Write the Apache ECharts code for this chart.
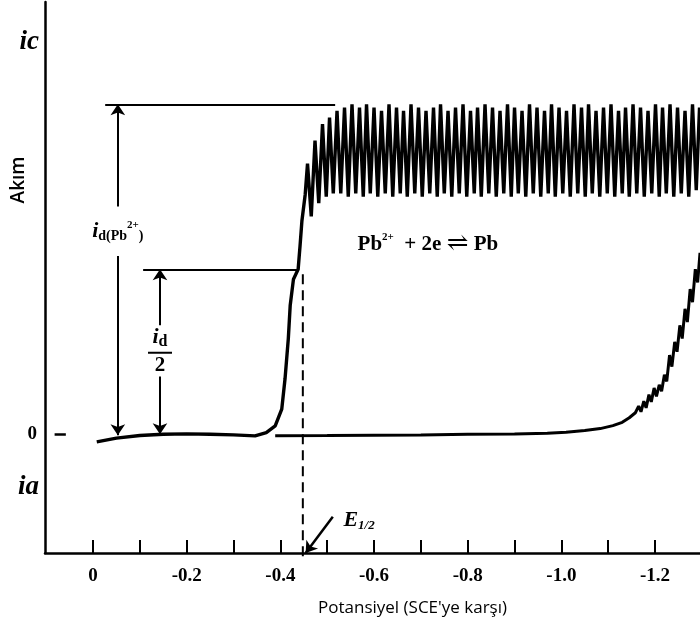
<!DOCTYPE html>
<html><head><meta charset="utf-8">
<script src="https://cdn.jsdelivr.net/npm/echarts@6/dist/echarts.min.js"></script>
<style>html,body{margin:0;padding:0;background:#fff}#c{width:700px;height:631px}</style>
</head><body><div id="c"></div>
<script>
// ---- axis settings ----
const xMin = -1.296, xMax = 0.1025;
const yMin = -36, yMax = 131;
const xTickValues = [0, -0.1, -0.2, -0.3, -0.4, -0.5, -0.6, -0.7, -0.8, -0.9, -1.0, -1.1, -1.2];
const xLabelValues = [0, -0.2, -0.4, -0.6, -0.8, -1.0, -1.2];
const yLabelValues = [-16, 0, 119];
const yLabelTexts = ['ia', '0', 'ic'];
const xAxisName = "Potansiyel (SCE'ye karşı)";
const yAxisName = 'Akım';

// ---- Pb2+ wave: baseline and rise (potential V, current arb.) ----
const waveX = [-0.008, -0.05, -0.10, -0.15, -0.20, -0.25, -0.30, -0.346, -0.37, -0.389, -0.403, -0.410, -0.417, -0.421, -0.428, -0.438, -0.442, -0.446, -0.453];
const waveY = [-2.3, -1.2, -0.4, 0, 0.1, 0, -0.2, -0.5, 0.5, 2.5, 7.6, 16.8, 29, 39, 47, 50, 57, 64.6, 72.6];

// ---- Pb2+ limiting-current plateau with drop oscillations ----
const plateauX = [-0.458,-0.466,-0.474,-0.482,-0.490,-0.498,-0.505,-0.513,-0.521,-0.529,-0.537,-0.545,-0.553,-0.561,-0.569,-0.577,-0.584,-0.592,-0.600,-0.608,-0.616,-0.624,-0.632,-0.640,-0.648,-0.656,-0.663,-0.671,-0.679,-0.687,-0.695,-0.703,-0.711,-0.719,-0.727,-0.735,-0.742,-0.750,-0.758,-0.766,-0.774,-0.782,-0.790,-0.798,-0.806,-0.814,-0.821,-0.829,-0.837,-0.845,-0.853,-0.861,-0.869,-0.877,-0.885,-0.893,-0.900,-0.908,-0.916,-0.924,-0.932,-0.940,-0.948,-0.956,-0.964,-0.972,-0.979,-0.987,-0.995,-1.003,-1.011,-1.019,-1.027,-1.035,-1.043,-1.051,-1.058,-1.066,-1.074,-1.082,-1.090,-1.098,-1.106,-1.114,-1.122,-1.130,-1.137,-1.145,-1.153,-1.161,-1.169,-1.177,-1.185,-1.193,-1.201,-1.209,-1.216,-1.224,-1.232,-1.240,-1.248,-1.256,-1.264,-1.272,-1.280,-1.288,-1.295];
const plateauY = [82,66,89,70,94,72,96,73,98,73,99,72,100,73,99,72,100,73,99,72,98,73,100,72,99,73,98,72,100,73,99,72,98,73,99,72,100,73,98,72,99,73,100,72,98,73,99,72,100,73,99,72,98,73,100,72,99,73,98,72,100,73,99,72,98,73,100,72,99,73,98,72,100,73,99,72,100,73,98,72,99,73,100,72,98,73,99,72,100,73,99,72,98,73,100,72,99,73,100,72,99,73,98,72,100,74,99];

// ---- residual (supporting electrolyte) current ----
const residualX = [-0.389,-0.50,-0.60,-0.70,-0.80,-0.90,-0.97,-1.01,-1.05,-1.083,-1.11,-1.13,-1.145,-1.158,-1.165,-1.170,-1.176,-1.181,-1.187,-1.192,-1.198,-1.203,-1.209,-1.214,-1.220,-1.225,-1.231,-1.236,-1.242,-1.247,-1.253,-1.258,-1.264,-1.269,-1.275,-1.280,-1.286,-1.291,-1.296];
const residualY = [-0.5,-0.4,-0.3,-0.2,0,0.1,0.3,0.6,1.1,1.7,2.6,3.6,5,6.5,8.5,6.8,10,8,12,9.8,14,11.5,15,13,18,16,24,20.5,28,25,33,29,38,34,44,40,50,46,55];

// ---- annotation values ----
const idLimit = 100, idHalf = 50, eHalf = -0.448;
const idArrowX = -0.053, halfArrowX = -0.143;
const eHalfLineY = [48.5, -38];

const serif = '"Liberation Serif","DejaVu Serif",serif';
const sans = '"Open Sans","Noto Sans","DejaVu Sans",sans-serif';
const pts = (xs, ys) => xs.map((x, i) => [x, ys[i]]);
const seg = (a, b, endSym, style) => [
  Object.assign({coord: a, symbol: 'none'}, style ? {lineStyle: style} : {}),
  {coord: b, symbol: endSym || 'none', symbolSize: 11}
];
const T = (o) => Object.assign({color: '#000', textBorderWidth: 0, fontFamily: serif, fontWeight: 'bold'}, o);

const chart = echarts.init(document.getElementById('c'));
chart.setOption({
  animation: false,
  backgroundColor: '#fff',
  grid: {left: 45, right: 0, top: 2, bottom: 78},
  xAxis: {
    type: 'value', inverse: true, min: xMin, max: xMax,
    splitLine: {show: false},
    axisLine: {onZero: false, lineStyle: {color: '#000', width: 2.5}},
    axisTick: {show: true, inside: true, length: 13, customValues: xTickValues, lineStyle: {color: '#000', width: 2}},
    axisLabel: {customValues: xLabelValues, formatter: v => v === 0 ? '0' : v.toFixed(1),
      fontFamily: serif, fontWeight: 'bold', fontSize: 19, color: '#000', margin: 14},
    name: xAxisName, nameLocation: 'middle', nameGap: 47,
    nameTextStyle: {fontFamily: sans, fontSize: 17, color: '#000', padding: [0, 0, 0, 80]}
  },
  yAxis: {
    type: 'value', min: yMin, max: yMax,
    splitLine: {show: false},
    axisLine: {show: true, onZero: false, lineStyle: {color: '#000', width: 2.5}},
    axisTick: {show: false},
    axisLabel: {customValues: yLabelValues, margin: 6,
      formatter: v => { const i = yLabelValues.indexOf(v); if (i < 0) return ''; const t = yLabelTexts[i]; return t === '0' ? '{n|0}' : '{it|' + t + '}'; },
      rich: {
        it: T({fontStyle: 'italic', fontSize: 27}),
        n: T({fontSize: 19, padding: [0, 2, 0, 0]})
      }}
  },
  graphic: [{type: 'text', x: 19, y: 180, rotation: Math.PI / 2,
    style: {text: yAxisName, fontFamily: sans, fontSize: 19, fontWeight: 600, fill: '#000', align: 'center', verticalAlign: 'middle'}}],
  series: [
    {type: 'line', data: pts(waveX.concat(plateauX), waveY.concat(plateauY)), symbol: 'none',
      lineStyle: {color: '#000', width: 3.4}, silent: true},
    {type: 'line', data: pts(residualX, residualY), symbol: 'none',
      lineStyle: {color: '#000', width: 3}, silent: true},
    {type: 'line', data: eHalfLineY.map(y => [eHalf, y]), symbol: 'none', clip: false,
      lineStyle: {color: '#000', width: 2, type: [10, 6]}, silent: true},
    {type: 'scatter', symbolSize: 0, clip: false, silent: true, itemStyle: {opacity: 1},
      data: [
        {value: [idArrowX, 61.5], label: {formatter: '{i|i}{s|d(Pb}{p|2+}{s|)}'}},
        {value: [halfArrowX, 25.3], label: {formatter: '{i|i}{d|d}\n{bar|}\n{n|2}'}},
        {value: [-0.715, 57.5], label: {formatter: '{t|Pb}{p|2+}{t|  + 2e }{a|⇌}{t| Pb}'}},
        {value: [-0.568, -26], label: {formatter: '{e|E}{es|1/2}'}}
      ],
      label: {show: true, position: 'inside', align: 'center', verticalAlign: 'middle', color: '#000', textBorderWidth: 0,
        rich: {
          i: T({fontStyle: 'italic', fontSize: 22, lineHeight: 24}),
          s: T({fontSize: 14, verticalAlign: 'bottom', lineHeight: 24}),
          p: T({fontSize: 11, verticalAlign: 'top', lineHeight: 24}),
          d: T({fontSize: 16, verticalAlign: 'bottom', lineHeight: 22}),
          bar: {width: 24, height: 2, backgroundColor: '#000', lineHeight: 6},
          n: T({fontSize: 21, lineHeight: 20}),
          t: T({fontSize: 21, lineHeight: 26}),
          a: T({fontSize: 26, lineHeight: 26, fontWeight: 'normal'}),
          e: T({fontStyle: 'italic', fontSize: 22, lineHeight: 24}),
          es: T({fontStyle: 'italic', fontSize: 13, verticalAlign: 'bottom', lineHeight: 24})
        }},
      markLine: {
        silent: true, animation: false, label: {show: false}, emphasis: {disabled: true},
        lineStyle: {color: '#000', width: 2, type: 'solid'},
        data: [
          seg([-0.026, idLimit], [-0.517, idLimit]),
          seg([-0.107, idHalf], [-0.436, idHalf]),
          seg([idArrowX, 69], [idArrowX, idLimit], 'arrow'),
          seg([idArrowX, 54], [idArrowX, -0.3], 'arrow'),
          seg([halfArrowX, 33], [halfArrowX, idHalf], 'arrow'),
          seg([halfArrowX, 17.5], [halfArrowX, 0], 'arrow'),
          seg([-0.512, -25], [-0.454, -36], 'arrow', {width: 2.5, color: '#000'}),
          seg([0.082, 0], [0.058, 0], null, {width: 2.5, color: '#000'})
        ]
      }}
  ]
});
</script></body></html>
